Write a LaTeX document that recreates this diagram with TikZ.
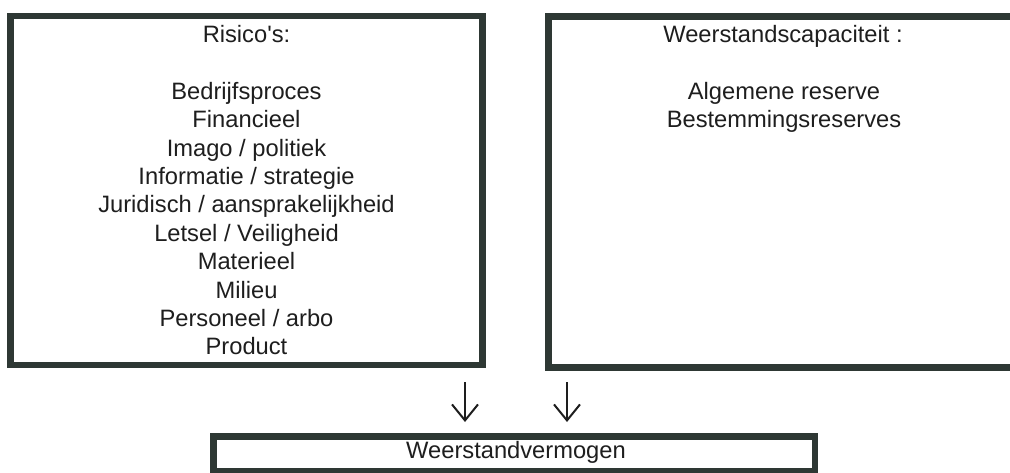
\documentclass[tikz,border=0pt]{standalone}
\usepackage{fontspec}
\setmainfont{Liberation Sans}
\usetikzlibrary{arrows.meta}
\definecolor{frame}{HTML}{2E3834}
\definecolor{ink}{HTML}{1E1E1E}
\begin{document}
\begin{tikzpicture}[x=1pt,y=-1pt,
  boxframe/.style={draw=frame, line width=6.5pt, rectangle, inner sep=0pt, outer sep=0pt},
  lbl/.style={text=ink, font=\fontsize{23.7}{28.4}\selectfont, anchor=base, inner sep=0pt},
  arr/.style={draw=ink, line width=2pt, -{Straight Barb[length=16pt,width=26pt,line width=2pt]}}]
\useasboundingbox[fill=white] (0,0) rectangle (1010,473);
% boxes
\node[boxframe, minimum width=472pt, minimum height=349pt] (risk) at (246.5,190.5) {};
\node[boxframe, minimum width=471.5pt, minimum height=351pt] (cap) at (784.25,192) {};
\node[boxframe, minimum width=601.5pt, minimum height=34.5pt] (res) at (514.25,453.75) {};
% left texts
\node[lbl] (rt) at (246.5,42.5) {Risico\textquotesingle s:};
\foreach \t [count=\i] in {Bedrijfsproces, Financieel, Imago / politiek, Informatie / strategie, Juridisch / aansprakelijkheid, Letsel / Veiligheid, Materieel, Milieu, Personeel / arbo, Product}
  \node[lbl] (r\i) at (246.5,{42.5+28.4*(\i+1)}) {\t};
% right texts
\node[lbl] (ct) at (783,42.5) {Weerstandscapaciteit :};
\node[lbl] (c1) at (784,99.3) {Algemene reserve};
\node[lbl] (c2) at (784,127.7) {Bestemmingsreserves};
% bottom text
\node[lbl] (rv) at (516,458) {Weerstandvermogen};
% arrows
\coordinate (a1s) at (465,382);
\coordinate (a1e) at (465,422);
\coordinate (a2s) at (567,382);
\coordinate (a2e) at (567,422);
\draw[arr] (a1s) -- (a1e);
\draw[arr] (a2s) -- (a2e);
\end{tikzpicture}
\end{document}
